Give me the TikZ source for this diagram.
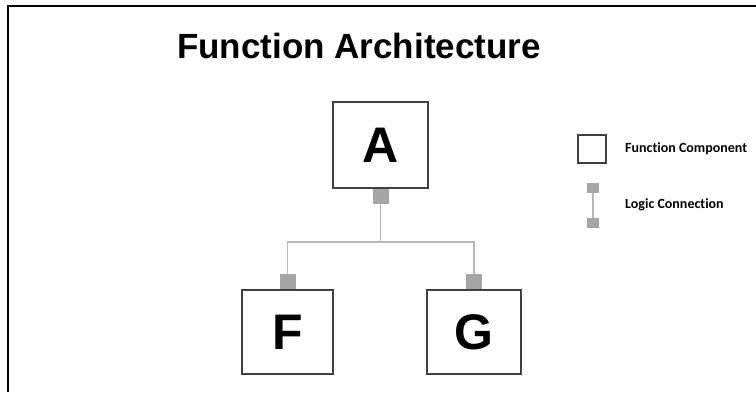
\documentclass[tikz,border=0pt]{standalone}
\usepackage{fontspec}
\setmainfont{Liberation Sans}
\newfontfamily\legendfont[Ligatures=NoCommon]{Carlito}
\usetikzlibrary{positioning}
\definecolor{boxline}{HTML}{404040}
\definecolor{portgray}{HTML}{A6A6A6}
\definecolor{linkgray}{HTML}{B8B8B8}

\begin{document}
\begin{tikzpicture}[x=1pt,y=-1pt,
    comp/.style={draw=boxline,line width=1.2pt,fill=white,inner sep=0pt,
      font=\bfseries\fontsize{50}{50}\selectfont},
    port/.style={fill=portgray,minimum width=16pt,minimum height=15pt,inner sep=0pt},
    link/.style={draw=linkgray,line width=1.8pt},
    legtext/.style={anchor=west,inner sep=0pt,font=\legendfont\bfseries\fontsize{14}{14}\selectfont}]
    \useasboundingbox (0,0) rectangle (756,392);
    \draw[line width=2pt] (8,392) -- (8,6) -- (756,6);
    \node[font=\bfseries\fontsize{35}{35}\selectfont] (title) at (359,45.5) {Function Architecture};
    % components
    \node[comp,minimum width=95pt,minimum height=86pt] (A) at (380.5,145) {A};
    \node[comp,minimum width=91pt,minimum height=84pt] (F) at (287.5,332) {F};
    \node[comp,minimum width=94pt,minimum height=84pt] (G) at (474,332) {G};
    \node[port,below=0pt of A] (portA) {};
    \node[port,above=0pt of F] (portF) {};
    \node[port,above=0pt of G] (portG) {};
    \draw[link] (portA.south) -- ++(0,38) coordinate (bus) -| (portF.north);
    \draw[link] (bus) -| (portG.north);
    % legend
    \node[draw=boxline,line width=1.2pt,minimum size=28pt,inner sep=0pt] (legComp) at (592,149) {};
    \node[legtext] (legCompText) at (625,149) {Function Component};
    \node[port,minimum width=12pt,minimum height=10pt] (legTop) at (593,188) {};
    \node[port,minimum width=12pt,minimum height=10pt] (legBot) at (593,223) {};
    \draw[link] (legTop) -- (legBot);
    \node[legtext] (legLinkText) at (625,205) {Logic Connection};
  \end{tikzpicture}
\end{document}
